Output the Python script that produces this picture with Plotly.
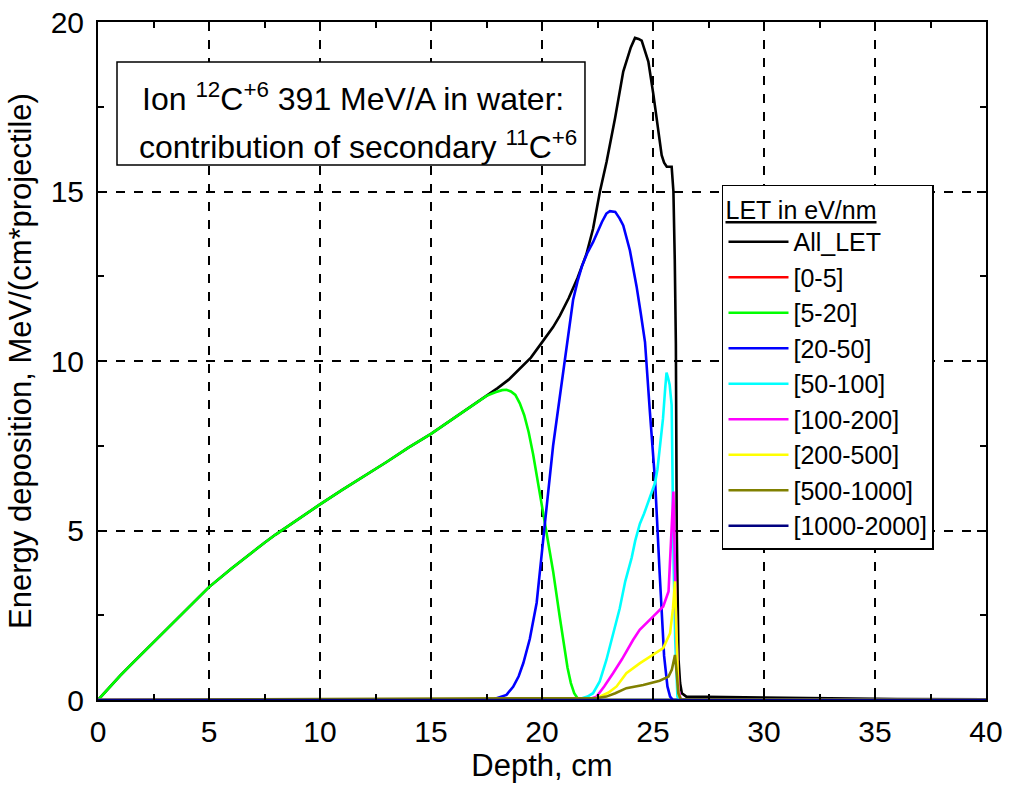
import plotly.graph_objects as go

# ---- data ----
depth_all = [0, 0.5, 1, 1.5, 2, 2.5, 3, 4, 5, 6, 7, 7.5, 8, 9, 10, 11, 12, 12.5, 13, 14, 15, 16, 17, 17.5,
             18, 18.5, 19, 19.5, 20, 20.5, 20.8, 21.2, 21.6, 22, 22.3, 22.61, 22.91, 23.29, 23.66, 24.0,
             24.19, 24.35, 24.49, 24.79, 25.02, 25.24, 25.39, 25.5, 25.62, 25.84, 25.92, 25.98, 26.03,
             26.07, 26.1, 26.15, 26.22, 26.3, 26.5, 28, 30, 33, 36, 40]
val_all = [0, 0.37, 0.72, 1.05, 1.38, 1.7, 2.02, 2.67, 3.33, 3.87, 4.4, 4.64, 4.88, 5.33, 5.77, 6.2, 6.6,
           6.8, 7.02, 7.45, 7.85, 8.3, 8.75, 8.97,
           9.2, 9.45, 9.76, 10.1, 10.55, 11.0, 11.33, 11.85, 12.45, 13.15, 13.9, 15.0, 15.88, 17.16, 18.54,
           19.25, 19.53, 19.5, 19.45, 18.83, 17.85, 16.86, 16.07, 15.85, 15.73, 15.73, 15.0, 13.0, 10.5,
           5.0, 3.0, 1.2, 0.5, 0.2, 0.1, 0.09, 0.07, 0.04, 0.03, 0.02]

depth_0_5 = [0, 40]
val_0_5 = [0, 0]

depth_5_20 = [0, 0.5, 1, 1.5, 2, 2.5, 3, 4, 5, 6, 7, 7.5, 8, 9, 10, 11, 12, 12.5, 13, 14, 15, 16, 17, 17.5,
              17.9, 18.2, 18.4, 18.6, 18.8, 19.0, 19.2, 19.4, 19.6, 19.8, 20.0, 20.13, 20.5, 20.8, 21.0,
              21.15, 21.3, 21.45, 21.6, 21.75, 40]
val_5_20 = [0, 0.37, 0.72, 1.05, 1.38, 1.7, 2.02, 2.67, 3.33, 3.87, 4.4, 4.64, 4.88, 5.33, 5.77, 6.2, 6.6,
            6.8, 7.02, 7.45, 7.85, 8.3, 8.75, 8.97,
            9.08, 9.14, 9.15, 9.1, 9.0, 8.75, 8.4, 7.9, 7.25, 6.5, 5.75, 5.27, 3.8, 2.45, 1.6,
            0.95, 0.5, 0.2, 0.05, 0, 0]

depth_20_50 = [0, 17.3, 17.6, 17.85, 18.1, 18.4, 18.7, 18.95, 19.16, 19.45, 19.76, 19.95, 20.14, 20.5,
               20.8, 20.96, 21.2, 21.4, 21.6, 21.8, 22.05, 22.31, 22.7, 22.9, 23.06, 23.3, 23.5, 23.66,
               23.96, 24.26, 24.45, 24.64, 24.86, 25.1, 25.3, 25.4, 25.5, 25.65, 25.77, 25.9, 40]
val_20_50 = [0, 0, 0.01, 0.03, 0.08, 0.15, 0.39, 0.7, 1.09, 1.8, 2.87, 4.0, 5.27, 7.5,
             8.9, 9.76, 10.9, 11.8, 12.35, 12.8, 13.2, 13.52, 14.1, 14.35, 14.42, 14.4, 14.2, 14.0,
             13.26, 12.2, 11.4, 10.56, 8.5, 6.4, 3.74, 2.4, 1.3, 0.4, 0.1, 0, 0]

depth_50_100 = [0, 21.5, 21.8, 22.05, 22.3, 22.6, 22.9, 23.2, 23.5, 23.75, 24.04, 24.2, 24.41, 24.6,
                24.86, 25.09, 25.2, 25.35, 25.45, 25.55, 25.61, 25.68, 25.75, 25.84, 25.88, 25.93,
                26.0, 26.1, 26.2, 40]
val_50_100 = [0, 0, 0.05, 0.1, 0.2, 0.55, 1.18, 1.9, 2.7, 3.5, 4.2, 4.7, 5.2, 5.5,
              5.95, 6.4, 6.8, 7.6, 8.3, 9.2, 9.66, 9.5, 9.3, 8.7, 6.2, 4.0,
              1.8, 0.1, 0, 0]

depth_100_200 = [0, 22.0, 22.46, 22.8, 23.2, 23.6, 24.1, 24.4, 25.0, 25.46, 25.7, 25.84, 25.92, 25.97,
                 26.05, 26.15, 26.25, 40]
val_100_200 = [0, 0, 0.1, 0.4, 0.79, 1.2, 1.77, 2.07, 2.46, 2.76, 3.2, 5.0, 6.15, 4.5,
               2.0, 0.3, 0, 0]

depth_200_500 = [0, 22.2, 22.6, 23.0, 23.36, 23.8, 24.4, 25.0, 25.46, 25.77, 25.9, 25.99, 26.05, 26.14,
                 26.25, 40]
val_200_500 = [0, 0, 0.1, 0.22, 0.4, 0.79, 1.08, 1.33, 1.53, 1.97, 2.7, 3.5, 2.0, 0.2,
               0, 0]

depth_500_1000 = [0, 7.5, 12, 18, 22, 22.5, 22.9, 23.3, 23.8, 24.56, 25.3, 25.7, 25.85, 25.99, 26.08,
                  26.14, 26.25, 30, 40]
val_500_1000 = [0, 0.02, 0.03, 0.03, 0.04, 0.06, 0.1, 0.2, 0.35, 0.44, 0.57, 0.69, 0.9, 1.33, 0.7,
                0.2, 0.02, 0.01, 0]

depth_1000_2000 = [0, 40]
val_1000_2000 = [0, 0]

series_names = ["All_LET", "[0-5]", "[5-20]", "[20-50]", "[50-100]", "[100-200]",
                "[200-500]", "[500-1000]", "[1000-2000]"]
series_depths = [depth_all, depth_0_5, depth_5_20, depth_20_50, depth_50_100, depth_100_200,
                 depth_200_500, depth_500_1000, depth_1000_2000]
series_values = [val_all, val_0_5, val_5_20, val_20_50, val_50_100, val_100_200,
                 val_200_500, val_500_1000, val_1000_2000]
series_colors = ["#000000", "#ff0000", "#00ff00", "#0000ff", "#00ffff", "#ff00ff",
                 "#ffff00", "#808000", "#000080"]

x_ticks = [0, 5, 10, 15, 20, 25, 30, 35, 40]
y_ticks = [0, 5, 10, 15, 20]

FONT = "Liberation Sans, Arial, Helvetica, sans-serif"

fig = go.Figure()
for name, xs, ys, col in zip(series_names, series_depths, series_values, series_colors):
    fig.add_trace(go.Scatter(x=xs, y=ys, mode="lines", name=name,
                             line=dict(color=col, width=2.6)))

axis_common = dict(
    showline=True, linecolor="black", linewidth=2, mirror="allticks",
    ticks="inside", ticklen=9, tickwidth=1.5, tickcolor="black",
    showgrid=True, gridcolor="black", gridwidth=1.5, griddash="dash",
    zeroline=False, automargin=False,
    tickfont=dict(family=FONT, size=30, color="black"),
    minor=dict(ticks="inside", ticklen=6, tickwidth=1.5, tickcolor="black", showgrid=False,
               dtick=2.5),
)

fig.update_layout(
    width=1015, height=791,
    margin=dict(l=98, r=29, t=22, b=91, autoexpand=False),
    paper_bgcolor="white", plot_bgcolor="white",
    font=dict(family=FONT, color="black"),
    xaxis=dict(range=[0, 40], tickvals=x_ticks, ticktext=[str(v) for v in x_ticks],
               title=dict(text="Depth, cm", font=dict(family=FONT, size=31), standoff=4),
               ticklabelstandoff=4,
               **axis_common),
    yaxis=dict(range=[0, 20], tickvals=y_ticks, ticktext=[str(v) for v in y_ticks],
               title=dict(text="Energy deposition, MeV/(cm*projectile)",
                          font=dict(family=FONT, size=31), standoff=10),
               ticklabelstandoff=6,
               **axis_common),
    legend=dict(x=0.7027, y=0.7596, xanchor="left", yanchor="top",
                bgcolor="white", bordercolor="black", borderwidth=1.5,
                font=dict(family=FONT, size=25, color="black"),
                title=dict(text="<u>LET in eV/nm</u>", font=dict(family=FONT, size=25)),
                itemwidth=60, tracegroupgap=0),
    showlegend=True,
)

# annotation box
fig.add_shape(type="rect", xref="paper", yref="paper",
              x0=0.0214, x1=0.5484, y0=0.789, y1=0.941,
              line=dict(color="black", width=1.5), fillcolor="white", layer="above")
fig.add_annotation(xref="paper", yref="paper", x=0.0473, y=0.889, xanchor="left", yanchor="middle",
                   text="Ion <sup>12</sup>C<sup>+6</sup> 391 MeV/A in water:", showarrow=False,
                   font=dict(family=FONT, size=32, color="black"))
fig.add_annotation(xref="paper", yref="paper", x=0.0439, y=0.8186, xanchor="left", yanchor="middle",
                   text="contribution of secondary <sup>11</sup>C<sup>+6</sup>", showarrow=False,
                   font=dict(family=FONT, size=32, color="black"))

# remove the browser's default 8px page margin so the figure sits at the window origin
fig.write_html("out.html",
               config={"displayModeBar": False},
               post_script="document.body.style.margin='0';document.body.style.overflow='hidden';")
